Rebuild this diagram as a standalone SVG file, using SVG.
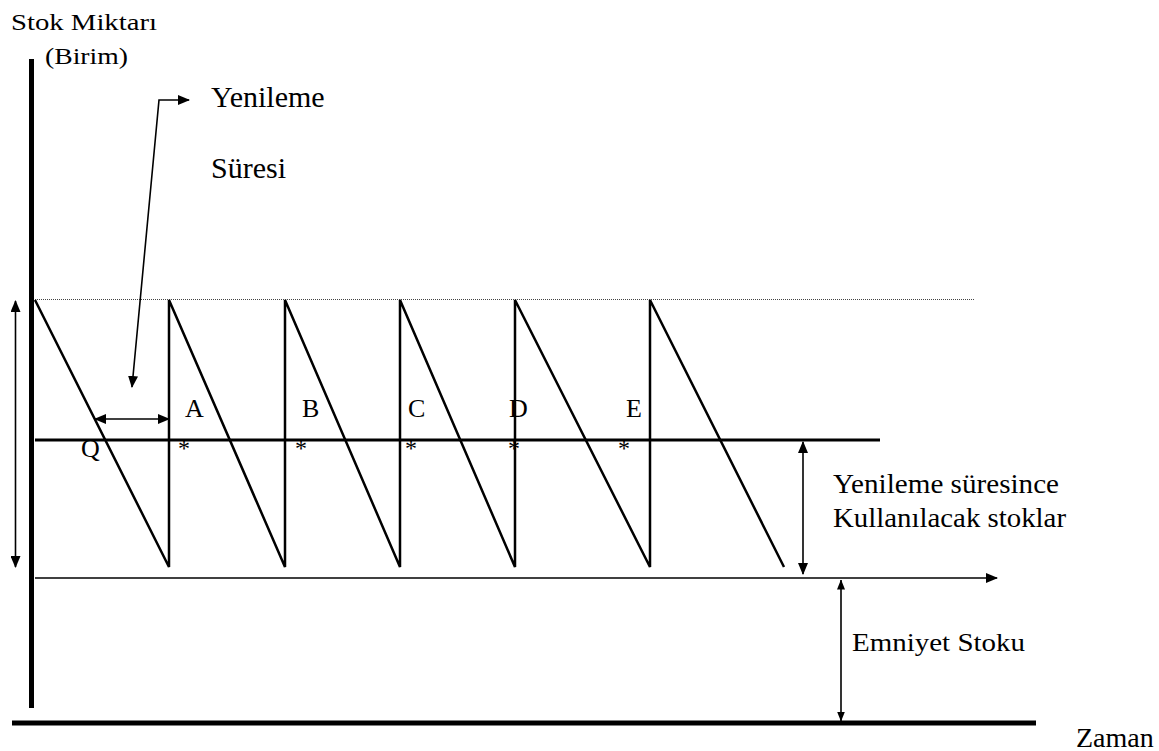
<svg xmlns="http://www.w3.org/2000/svg" width="1159" height="751" viewBox="0 0 1159 751">
<style>
  text { font-family: "Liberation Serif", "Times New Roman", Times, serif; fill: #000; }
  .saw { fill: none; stroke: #000; stroke-width: 2.5; stroke-linejoin: miter; }
  .thin { fill: none; stroke: #000; stroke-width: 1.6; }
  .axis { fill: none; stroke: #000; stroke-width: 5; }
</style>
<defs>
  <marker id="ah" viewBox="0 0 12 10" refX="11" refY="5" markerWidth="12" markerHeight="10" markerUnits="userSpaceOnUse" orient="auto-start-reverse">
    <path d="M0,0 L12,5 L0,10 Z" fill="#000"/>
  </marker>
  <marker id="ahs" viewBox="0 0 10 8" refX="9.5" refY="4" markerWidth="10" markerHeight="8" markerUnits="userSpaceOnUse" orient="auto-start-reverse">
    <path d="M0,0 L10,4 L0,8 Z" fill="#000"/>
  </marker>
</defs>

<g id="axes">
  <line class="axis" x1="31.5" y1="59" x2="31.5" y2="708"/>
  <line class="axis" x1="12" y1="723" x2="1036" y2="723" stroke-width="6"/>
</g>

<g id="levels">
  <line x1="35" y1="299.5" x2="975" y2="299.5" stroke="#444" stroke-width="1" stroke-dasharray="1,1"/>
  <line x1="35" y1="440" x2="880" y2="440" stroke="#000" stroke-width="3"/>
</g>

<g id="sawtooth">
  <polyline class="saw" points="35,300 169,567 169,300 285,567 285,300 400,567 400,300 515,567 515,300 650,567 650,300 784,567"/>
</g>

<g id="connectors">
  <line class="thin" x1="35" y1="578" x2="997" y2="578" stroke-width="2" marker-end="url(#ah)"/>
  <line class="thin" x1="15.5" y1="301" x2="15.5" y2="567" stroke-width="2" marker-start="url(#ah)" marker-end="url(#ah)"/>
  <line class="thin" x1="95" y1="419" x2="169" y2="419" stroke-width="2" marker-start="url(#ah)" marker-end="url(#ah)"/>
  <line class="thin" x1="803" y1="442" x2="803" y2="574" stroke-width="2" marker-start="url(#ah)" marker-end="url(#ah)"/>
  <line class="thin" x1="841" y1="580" x2="841" y2="721" stroke-width="1.5" marker-start="url(#ahs)" marker-end="url(#ahs)"/>
  <polyline class="thin" points="132,387 159,100 189,100" marker-start="url(#ah)" marker-end="url(#ah)"/>
</g>

<g id="labels">
  <text x="11" y="30" font-size="24" textLength="146" lengthAdjust="spacingAndGlyphs">Stok Miktarı</text>
  <text x="45" y="64" font-size="24" textLength="83" lengthAdjust="spacingAndGlyphs">(Birim)</text>
  <text x="211" y="107" font-size="30">Yenileme</text>
  <text x="211" y="178" font-size="30">Süresi</text>
  <text x="833" y="493" font-size="28" textLength="226" lengthAdjust="spacingAndGlyphs">Yenileme süresince</text>
  <text x="833" y="527" font-size="28" textLength="233" lengthAdjust="spacingAndGlyphs">Kullanılacak stoklar</text>
  <text x="852" y="651" font-size="25" textLength="173" lengthAdjust="spacingAndGlyphs">Emniyet Stoku</text>
  <text x="1076" y="747" font-size="28">Zaman</text>
</g>

<g id="points" font-size="26">
  <text x="81" y="457">Q</text>
  <text x="185" y="417">A</text>
  <text x="302" y="417">B</text>
  <text x="408" y="417">C</text>
  <text x="509" y="417">D</text>
  <text x="626" y="417">E</text>
  <text x="184" y="456" text-anchor="middle" font-size="24">*</text>
  <text x="301" y="456" text-anchor="middle" font-size="24">*</text>
  <text x="411" y="456" text-anchor="middle" font-size="24">*</text>
  <text x="514" y="456" text-anchor="middle" font-size="24">*</text>
  <text x="624" y="456" text-anchor="middle" font-size="24">*</text>
</g>
</svg>
